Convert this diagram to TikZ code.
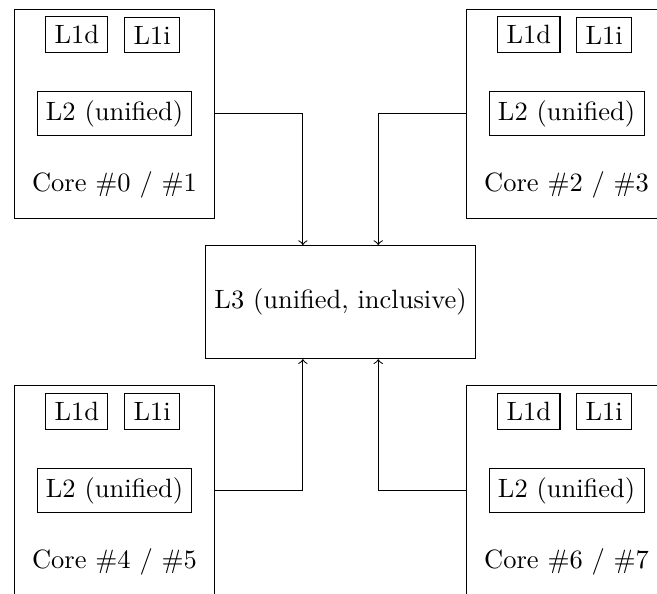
\documentclass[tikz,border=0pt]{standalone}
\usepackage{tikz}
\usetikzlibrary{positioning}

\begin{document}
\begin{tikzpicture}[auto, node distance=0.5cm, core/.style={draw,minimum width=2.66cm,minimum height=2.78cm}, cache/.style={draw}, llc/.style={draw,minimum height=1.5cm}]
    \useasboundingbox (-4.52,-3.87) rectangle (4.2,4.01);

    \node[llc] (L3) at (0,0) {L3 (unified, inclusive)};

    % Core #0 / #1
    \node[core] (C0) at (-3,2.5) {};
    \node[cache] (L2a) at (C0) {L2 (unified)};
    \node[cache, xshift=-0.5cm] (L1da) [above=of L2a] {L1d};
    \node[cache, xshift=0.5cm] (L1ia) [above=of L2a] {L1i};
    \node (Na) [below=0.35cm of L2a] {Core \#0 / \#1};

    % Core #2 / #3
    \node[core] (C1) at (3,2.5) {};
    \node[cache] (L2b) at (C1) {L2 (unified)};
    \node[cache, xshift=-0.5cm] (L1db) [above=of L2b] {L1d};
    \node[cache, xshift=0.5cm] (L1ib) [above=of L2b] {L1i};
    \node (Nb) [below=0.35cm of L2b] {Core \#2 / \#3};

    % Core #4 / #5
    \node[core] (C2) at (-3,-2.5) {};
    \node[cache] (L2c) at (C2) {L2 (unified)};
    \node[cache, xshift=-0.5cm] (L1dc) [above=of L2c] {L1d};
    \node[cache, xshift=0.5cm] (L1ic) [above=of L2c] {L1i};
    \node (Nc) [below=0.35cm of L2c] {Core \#4 / \#5};

    % Core #6 / #7
    \node[core] (C3) at (3,-2.5) {};
    \node[cache] (L2d) at (C3) {L2 (unified)};
    \node[cache, xshift=-0.5cm] (L1dd) [above=of L2d] {L1d};
    \node[cache, xshift=0.5cm] (L1id) [above=of L2d] {L1i};
    \node (Nd) [below=0.35cm of L2d] {Core \#6 / \#7};

    % Links to the shared L3
    \draw[->] (C0.east) -| ([xshift=-0.5cm]L3.north);
    \draw[->] (C1.west) -| ([xshift=0.5cm]L3.north);
    \draw[->] (C2.east) -| ([xshift=-0.5cm]L3.south);
    \draw[->] (C3.west) -| ([xshift=0.5cm]L3.south);
\end{tikzpicture}
\end{document}
